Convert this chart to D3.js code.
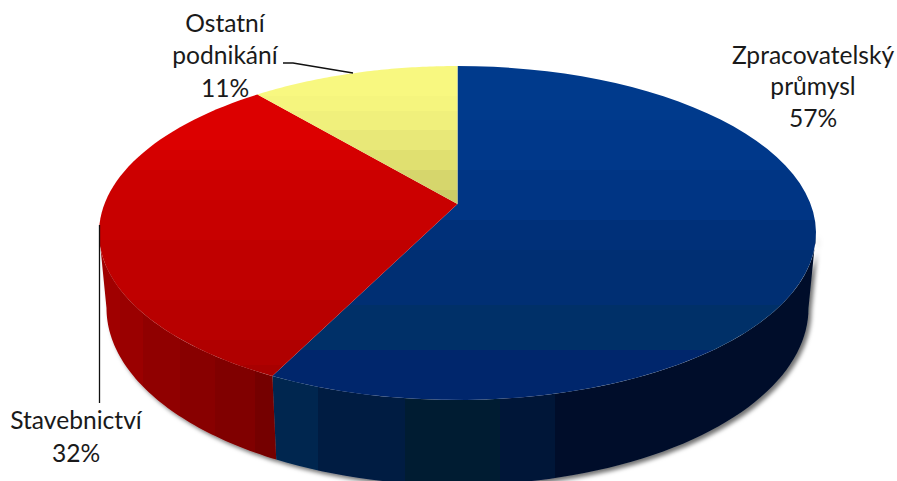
<!DOCTYPE html>
<html><head><meta charset="utf-8">
<style>html,body{margin:0;padding:0;background:#fff}svg{display:block}text{font-family:Lato,"Noto Sans",sans-serif;font-size:24.6px;fill:#1a1a1a;text-anchor:middle}</style>
<script src="https://cdn.jsdelivr.net/npm/d3@7/dist/d3.min.js"></script>
</head><body><svg id="c" width="897" height="481"></svg>
<script>
const categories = ["Zpracovatelský průmysl", "Stavebnictví", "Ostatní podnikání"];
const values = [57.3, 31.6, 11.1];
const labelLines = [["Zpracovatelský","průmysl"],["Stavebnictví"],["Ostatní","podnikání"]];
const labelBaselines = [[64,95,127],[429,462],[32,64,97]];
const labelCenters = [813,76,225];
const topBands = [
 [[66,"#003a8c"],[120,"#00388a"],[170,"#003584"],[220,"#003079"],[250,"#002f73"],[305,"#003068"],[350,"#00266c"],[401,"#00266c"]],
 [[90,"#dc0000"],[150,"#d40000"],[170,"#cc0000"],[200,"#c80000"],[240,"#c00000"],[300,"#b80000"],[340,"#b00000"],[365,"#a80000"],[380,"#a80000"]],
 [[66,"#f8f880"],[96,"#f5f57e"],[111,"#f0f07c"],[130,"#e8e878"],[150,"#e0e070"],[170,"#d6d66c"],[190,"#cccc66"],[205,"#cccc66"]]
];
const sideBands = [
 [[278,"#02284f"],[318,"#001a42"],[405,"#001a33"],[478,"#021c30"],[500,"#001238"],[555,"#00112b"],[820,"#00112b"]],
 [[100,"#a00000"],[120,"#9a0000"],[143,"#900000"],[180,"#880000"],[215,"#800000"],[255,"#750000"],[280,"#750000"]],
 [[0,"#888"],[1,"#888"]]
];
const persp = 0.1737, cxPie = 457.5;
const topRim = {rx:358.5, ry:167, cy:233}, botRim = {rx:351, ry:177, cy:308};
function project(rim, angle){
  const u=Math.sin(angle), v=-Math.cos(angle), s=1/(1-persp*v);
  const a=rim.rx*Math.sqrt(1-persp*persp), b=rim.ry*(1-persp*persp), y0=rim.cy-rim.ry*persp;
  return [cxPie+a*u*s, y0+b*v*s];
}
const arcPts=(rim,a0,a1)=>d3.range(0,61).map(i=>project(rim,a0+(a1-a0)*i/60));
const line=d3.line();
const pie=d3.pie().sort(null).value(d=>d)(values);
const svg=d3.select("#c"), defs=svg.append("defs");
const shadow=defs.append("filter").attr("id","sh").attr("x","-10%").attr("y","-10%").attr("width","120%").attr("height","120%");
shadow.append("feDropShadow").attr("dx",3).attr("dy",3).attr("stdDeviation",2).attr("flood-color","#000").attr("flood-opacity",.55);
// stepped (banded) gradients: each band holds its colour up to the next band
function gradient(id,stops,vertical){
  const lo=stops[0][0],hi=stops[stops.length-1][0];
  const g=defs.append("linearGradient").attr("id",id).attr("gradientUnits","userSpaceOnUse")
    .attr("x1",vertical?0:lo).attr("x2",vertical?0:hi).attr("y1",vertical?lo:0).attr("y2",vertical?hi:0);
  stops.forEach((s,i)=>{
    g.append("stop").attr("offset",(s[0]-lo)/(hi-lo)).attr("stop-color",s[1]);
    if(i<stops.length-1) g.append("stop").attr("offset",(stops[i+1][0]-lo)/(hi-lo)).attr("stop-color",s[1]);
  });
}
topBands.forEach((b,i)=>gradient("t"+i,b,true));
sideBands.forEach((b,i)=>gradient("s"+i,b,false));
// side wall: front-facing part, between the rim's left and right extremes
const tilt=Math.asin(persp);
const sideG=svg.append("g").attr("filter","url(#sh)");
pie.forEach((d,i)=>{
  const a0=Math.max(d.startAngle,Math.PI/2+tilt), a1=Math.min(d.endAngle,3*Math.PI/2-tilt);
  if(a1<=a0) return;
  const pts=arcPts(topRim,a0,a1).concat(arcPts(botRim,a0,a1).reverse());
  sideG.append("path").attr("d",line(pts)+"Z").attr("fill",`url(#s${i})`);
});
// top face
const centre=[cxPie,topRim.cy-topRim.ry*persp];
pie.forEach((d,i)=>{
  svg.append("path").attr("d",line([centre].concat(arcPts(topRim,d.startAngle,d.endAngle)))+"Z")
    .attr("fill",`url(#t${i})`);
});
// leader lines
const leaders=[[[99.5,225],[99.5,403]],[[283,63],[293,63],[353,73]]];
leaders.forEach(l=>svg.append("path").attr("d",line(l)).attr("fill","none").attr("stroke","#111").attr("stroke-width",1.3));
// labels
pie.forEach((d,i)=>{
  const lines=labelLines[i].concat([d3.format(".0f")(values[i])+"%"]);
  lines.forEach((t,j)=>svg.append("text").attr("x",labelCenters[i]).attr("y",labelBaselines[i][j]).text(t));
});
</script></body></html>
